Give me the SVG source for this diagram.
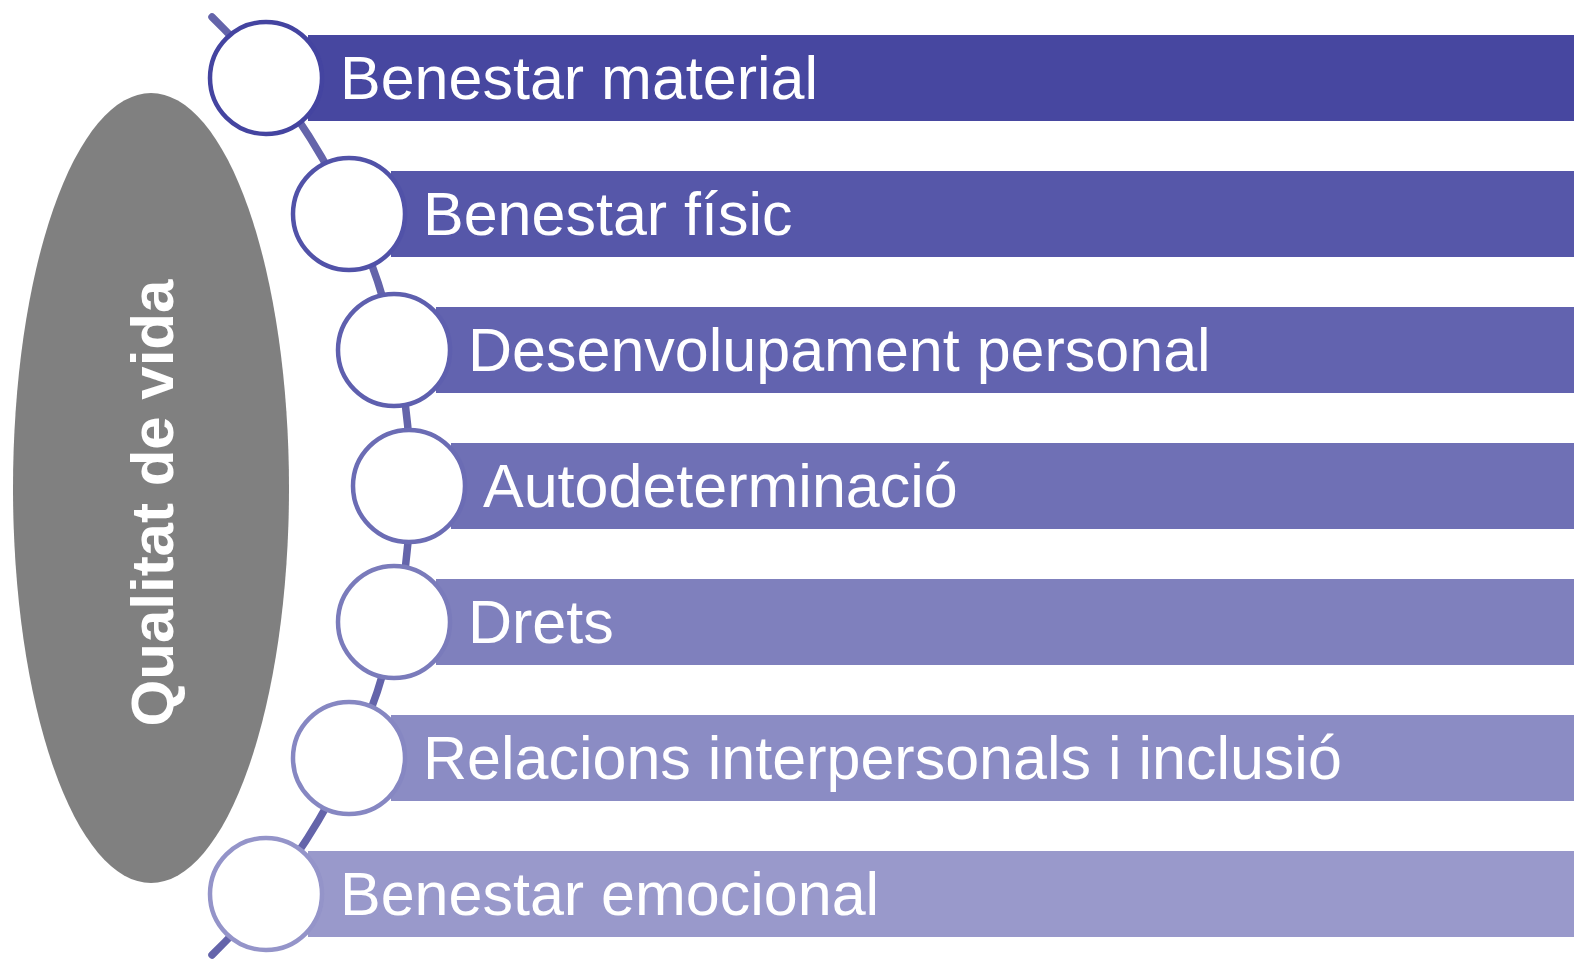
<svg xmlns="http://www.w3.org/2000/svg" width="1574" height="969" viewBox="0 0 1574 969">
<style>
.lbl{font-family:"Liberation Sans",Arial,sans-serif;font-size:61px;fill:#ffffff}
.title{font-family:"Liberation Sans",Arial,sans-serif;font-size:60px;font-weight:bold;fill:#ffffff}
.dot{fill:#ffffff;stroke-width:4.5}
</style>
<rect width="1574" height="969" fill="#ffffff"/>
<g id="center">
<ellipse cx="151" cy="488" rx="138" ry="395" fill="#808080"/>
<text class="title" transform="translate(173,503) rotate(-90)" text-anchor="middle">Qualitat de vida</text>
</g>
<g id="connectors">
<path d="M212,17 A653.5,653.5 0 0 1 212,955" fill="none" stroke="#6464AA" stroke-width="7.5" stroke-linecap="round"/>
</g>
<g id="n1">
<rect x="308" y="35" width="1266" height="86" fill="#4747A0"/>
<circle class="dot" cx="266" cy="78" r="56" stroke="#4444A0"/>
<text class="lbl" x="340" y="99">Benestar material</text>
</g>
<g id="n2">
<rect x="391" y="171" width="1183" height="86" fill="#5657A9"/>
<circle class="dot" cx="349" cy="214" r="56" stroke="#5152A8"/>
<text class="lbl" x="423" y="235">Benestar físic</text>
</g>
<g id="n3">
<rect x="436" y="307" width="1138" height="86" fill="#6263AF"/>
<circle class="dot" cx="394" cy="350" r="56" stroke="#5E5FAE"/>
<text class="lbl" x="468" y="371">Desenvolupament personal</text>
</g>
<g id="n4">
<rect x="451" y="443" width="1123" height="86" fill="#6F70B5"/>
<circle class="dot" cx="409" cy="486" r="56" stroke="#6B6CB4"/>
<text class="lbl" x="483" y="507">Autodeterminació</text>
</g>
<g id="n5">
<rect x="436" y="579" width="1138" height="86" fill="#7F80BD"/>
<circle class="dot" cx="394" cy="622" r="56" stroke="#7A7BBB"/>
<text class="lbl" x="468" y="643">Drets</text>
</g>
<g id="n6">
<rect x="391" y="715" width="1183" height="86" fill="#8B8CC4"/>
<circle class="dot" cx="349" cy="758" r="56" stroke="#8687C2"/>
<text class="lbl" x="423" y="779">Relacions interpersonals i inclusió</text>
</g>
<g id="n7">
<rect x="308" y="851" width="1266" height="86" fill="#9999CB"/>
<circle class="dot" cx="266" cy="894" r="56" stroke="#9494C9"/>
<text class="lbl" x="340" y="915">Benestar emocional</text>
</g>
</svg>
